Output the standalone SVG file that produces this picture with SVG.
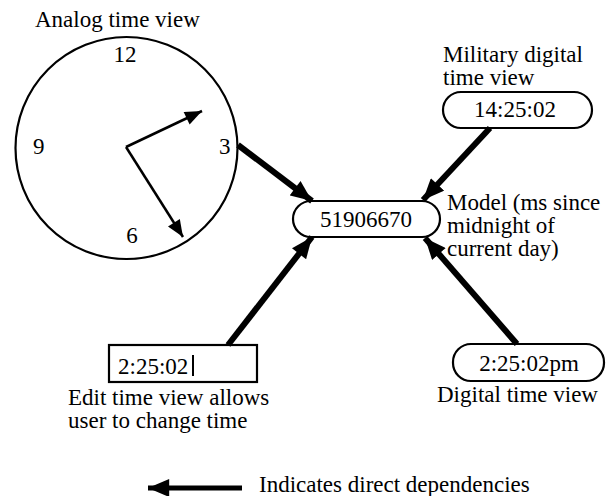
<svg xmlns="http://www.w3.org/2000/svg" width="616" height="496" viewBox="0 0 616 496">
<defs>
<style>
text{font-family:"Liberation Serif","Times New Roman",serif;font-size:23px;fill:#000}
.mid{text-anchor:middle}
.box{fill:#fff;stroke:#000;stroke-width:2.2}
.dep{stroke:#000;stroke-width:6;fill:none;marker-end:url(#big)}
.hand{stroke:#000;stroke-width:2.5;fill:none;marker-end:url(#small)}
</style>
<marker id="big" markerUnits="userSpaceOnUse" markerWidth="22" markerHeight="18" refX="20" refY="8.5" orient="auto" viewBox="0 0 20 17">
<path d="M0,0 L20,8.5 L0,17 Z" fill="#000"/>
</marker>
<marker id="small" markerUnits="userSpaceOnUse" markerWidth="18" markerHeight="14" refX="17" refY="7" orient="auto" viewBox="0 0 17 14">
<path d="M0,0 L17,7 L0,14 Z" fill="#000"/>
</marker>
</defs>
<rect width="616" height="496" fill="#fff"/>
<g id="analog">
<text x="35" y="27">Analog time view</text>
<circle cx="126.5" cy="148" r="111" fill="none" stroke="#000" stroke-width="2.2"/>
<text class="mid" x="125" y="62">12</text>
<text x="33" y="154">9</text>
<text x="219" y="154">3</text>
<text class="mid" x="132" y="243">6</text>
<line class="hand" x1="126" y1="147" x2="202" y2="111"/>
<line class="hand" x1="126" y1="147" x2="183" y2="237"/>
</g>
<g id="military">
<text x="443" y="62">Military digital</text>
<text x="443" y="85">time view</text>
<rect class="box" x="443" y="92" width="149" height="36" rx="18"/>
<text class="mid" x="515" y="117">14:25:02</text>
</g>
<g id="model">
<rect class="box" x="293" y="201" width="147" height="36" rx="18"/>
<text class="mid" x="366" y="227">51906670</text>
<text x="447" y="210">Model (ms since</text>
<text x="447" y="233">midnight of</text>
<text x="447" y="256">current day)</text>
</g>
<g id="edit">
<rect class="box" x="109" y="345" width="148" height="37"/>
<text x="118" y="374">2:25:02</text>
<line x1="193" y1="355" x2="193" y2="376" stroke="#000" stroke-width="2"/>
<text x="68" y="405">Edit time view allows</text>
<text x="68" y="428">user to change time</text>
</g>
<g id="digital">
<rect class="box" x="453" y="344" width="151" height="37" rx="18"/>
<text class="mid" x="529" y="371">2:25:02pm</text>
<text x="437" y="402">Digital time view</text>
</g>
<g id="connectors">
<line class="dep" x1="238" y1="145" x2="312" y2="201"/>
<line class="dep" x1="490" y1="128" x2="423" y2="200"/>
<line class="dep" x1="228" y1="345" x2="312" y2="237"/>
<line class="dep" x1="517" y1="344" x2="425" y2="238"/>
</g>
<g id="legend">
<line class="dep" x1="242" y1="488" x2="148" y2="488" style="stroke-width:5"/>
<text x="259" y="492">Indicates direct dependencies</text>
</g>
</svg>
